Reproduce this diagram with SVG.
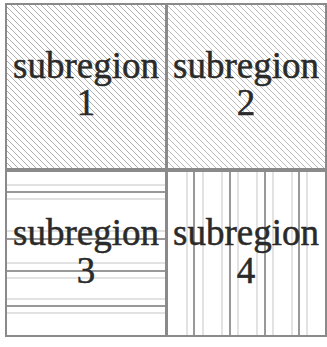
<svg xmlns="http://www.w3.org/2000/svg" width="327" height="347" viewBox="0 0 327 347">
<defs>
<pattern id="diag1" patternUnits="userSpaceOnUse" width="6" height="6">
<path d="M0,0 L6,6 M-1,5 L1,7 M5,-1 L7,1" stroke="#a6a6a6" stroke-width="0.9"/>
</pattern>
<pattern id="diag2" patternUnits="userSpaceOnUse" width="6" height="6">
<path d="M0,0 L6,6 M-1,5 L1,7 M5,-1 L7,1" stroke="#b4b4b4" stroke-width="0.9"/>
</pattern>
</defs>
<style>
.cell{stroke:#8a8a8a;stroke-width:2}
.lbl{font-family:"Liberation Serif","Times New Roman",serif;font-size:37px;fill:#2a2a2a;stroke:#2a2a2a;stroke-width:0.5;text-anchor:middle}
.dk{stroke:#999;stroke-width:2}
.lt{stroke:#d8d8d8;stroke-width:1.5}
</style>
<g id="subregion1">
<rect class="cell" x="6" y="4" width="160" height="165" fill="url(#diag1)"/>
<text class="lbl" x="86" y="78">subregion</text>
<text class="lbl" x="86" y="115">1</text>
</g>
<g id="subregion2">
<rect class="cell" x="167" y="4" width="159" height="165" fill="url(#diag2)"/>
<text class="lbl" x="246" y="78">subregion</text>
<text class="lbl" x="246" y="115">2</text>
</g>
<g id="subregion3">
<rect class="cell" x="6" y="171" width="160" height="165" fill="#fff"/>
<g>
<line class="lt" x1="7" y1="185" x2="165" y2="185"/>
<line class="dk" x1="7" y1="192" x2="165" y2="192"/>
<line class="lt" x1="7" y1="199" x2="165" y2="199"/>
<line class="lt" x1="7" y1="231" x2="165" y2="231"/>
<line class="dk" x1="7" y1="239" x2="165" y2="239"/>
<line class="lt" x1="7" y1="263" x2="165" y2="263"/>
<line class="dk" x1="7" y1="271" x2="165" y2="271"/>
<line class="lt" x1="7" y1="278" x2="165" y2="278"/>
<line class="lt" x1="7" y1="299" x2="165" y2="299"/>
<line class="dk" x1="7" y1="306" x2="165" y2="306"/>
<line class="lt" x1="7" y1="313" x2="165" y2="313"/>
</g>
<text class="lbl" x="86" y="245">subregion</text>
<text class="lbl" x="86" y="283">3</text>
</g>
<g id="subregion4">
<rect class="cell" x="167" y="171" width="159" height="165" fill="#fff"/>
<g>
<line class="lt" x1="187" y1="172" x2="187" y2="335"/>
<line class="dk" x1="194" y1="172" x2="194" y2="335"/>
<line class="lt" x1="203" y1="172" x2="203" y2="335"/>
<line class="lt" x1="222" y1="172" x2="222" y2="335"/>
<line class="dk" x1="230" y1="172" x2="230" y2="335"/>
<line class="lt" x1="238" y1="172" x2="238" y2="335"/>
<line class="lt" x1="257" y1="172" x2="257" y2="335"/>
<line class="dk" x1="265" y1="172" x2="265" y2="335"/>
<line class="lt" x1="273" y1="172" x2="273" y2="335"/>
<line class="lt" x1="292" y1="172" x2="292" y2="335"/>
<line class="dk" x1="299" y1="172" x2="299" y2="335"/>
<line class="lt" x1="307" y1="172" x2="307" y2="335"/>
</g>
<text class="lbl" x="246" y="245">subregion</text>
<text class="lbl" x="246" y="283">4</text>
</g>
</svg>
